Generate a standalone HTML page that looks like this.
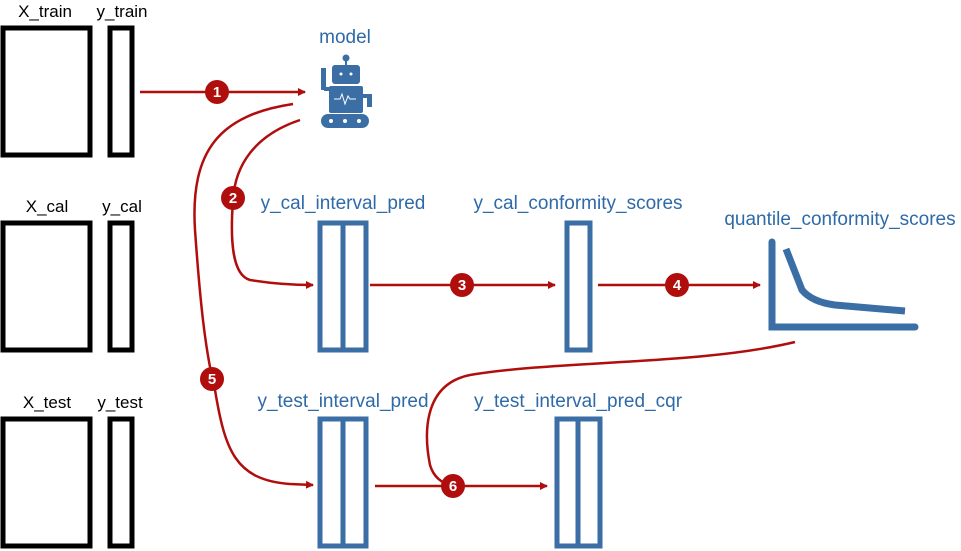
<!DOCTYPE html>
<html><head><style>
body{margin:0;background:#fff;}
svg{display:block;font-family:"Liberation Sans",sans-serif;}
</style></head><body>
<svg width="961" height="551" viewBox="0 0 961 551">
<defs><marker id="a" markerWidth="8" markerHeight="8" refX="7" refY="4" orient="auto" markerUnits="userSpaceOnUse"><path d="M0,0 L8,4 L0,8 Z" fill="#b00d0d"/></marker></defs>
<g fill="none" stroke="#000" stroke-width="5">
<rect x="3" y="28" width="87" height="127"/><rect x="110" y="28" width="22" height="127"/>
<rect x="3" y="223" width="87" height="127"/><rect x="110" y="223" width="22" height="127"/>
<rect x="3" y="419" width="87" height="127"/><rect x="110" y="419" width="22" height="127"/>
</g>
<g font-size="17" fill="#000" text-anchor="middle">
<text x="45" y="17">X_train</text><text x="122" y="17">y_train</text>
<text x="47" y="212">X_cal</text><text x="122" y="212">y_cal</text>
<text x="47" y="408">X_test</text><text x="120" y="408">y_test</text>
</g>
<g fill="none" stroke="#3a6ea5" stroke-width="5">
<rect x="320" y="223" width="46" height="127"/><line x1="343" y1="223" x2="343" y2="350"/>
<rect x="320" y="419" width="46" height="127"/><line x1="343" y1="419" x2="343" y2="546"/>
<rect x="567" y="223" width="23" height="127"/>
<rect x="557" y="419" width="43" height="127"/><line x1="578" y1="419" x2="578" y2="546"/>
<path d="M772,242 V327 H915" stroke-width="7" stroke-linecap="round"/>
<path d="M786,249 L802,290 Q812,302 835,305 L905,311" stroke-width="7"/>
</g>
<g font-size="19" fill="#2e6aa8" text-anchor="middle">
<text x="345" y="43">model</text>
<text x="343" y="209">y_cal_interval_pred</text>
<text x="578" y="209">y_cal_conformity_scores</text>
<text x="840" y="225">quantile_conformity_scores</text>
<text x="343" y="407">y_test_interval_pred</text>
<text x="578" y="407">y_test_interval_pred_cqr</text>
</g>
<g fill="#3a6ea5">
<circle cx="346" cy="58" r="3.5"/><rect x="345" y="59" width="2" height="8"/>
<rect x="332" y="65" width="28" height="19" rx="3"/>
<rect x="329" y="86" width="34" height="27" rx="2"/>
<rect x="321" y="68" width="5" height="22"/><rect x="324" y="87" width="7" height="4"/>
<rect x="362" y="94" width="9" height="4"/><rect x="367" y="94" width="5" height="13"/>
<rect x="321" y="114" width="48" height="14" rx="7"/>
</g>
<g fill="#fff"><circle cx="331" cy="121" r="2"/><circle cx="345" cy="121" r="2"/><circle cx="359" cy="121" r="2"/><circle cx="341" cy="74" r="1.5"/><circle cx="351" cy="74" r="1.5"/></g>
<path d="M334,99 h6 l2,-5 l3,10 l3,-8 l2,3 h6" fill="none" stroke="#fff" stroke-width="1"/>
<g fill="none" stroke="#b00d0d" stroke-width="2.5">
<line x1="140" y1="92" x2="305" y2="92" marker-end="url(#a)"/>
<line x1="370" y1="285" x2="555" y2="285" marker-end="url(#a)"/>
<line x1="598" y1="285" x2="760" y2="285" marker-end="url(#a)"/>
<line x1="375" y1="486" x2="547" y2="486" marker-end="url(#a)"/>
<path d="M300,120 C255,135 235,165 233,200 C230,240 232,275 250,280 Q280,285 313,285" marker-end="url(#a)"/>
<path d="M293,104 C220,115 190,150 195,230 C200,300 205,350 215,390 C225,450 235,480 290,484 L313,485" marker-end="url(#a)"/>
<path d="M795,342 C700,365 560,360 470,375 C420,385 425,440 430,465 Q435,482 453,486"/>
</g>
<g fill="#b00d0d"><circle cx="217" cy="92" r="12"/><circle cx="233" cy="198" r="12"/><circle cx="462" cy="285" r="12"/><circle cx="677" cy="285" r="12"/><circle cx="212" cy="379" r="12"/><circle cx="453" cy="486" r="12"/></g>
<g fill="#fff" font-size="15" font-weight="bold" text-anchor="middle">
<text x="217" y="97">1</text><text x="233" y="203">2</text><text x="462" y="290">3</text><text x="677" y="290">4</text><text x="212" y="384">5</text><text x="453" y="491">6</text>
</g>
</svg>
</body></html>
